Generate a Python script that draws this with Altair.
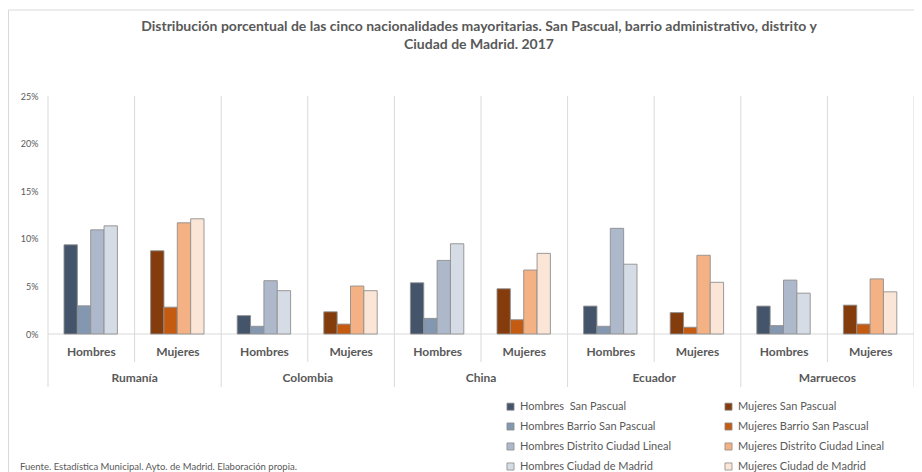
import altair as alt
import pandas as pd

# ---------------- data ----------------
countries = ["Rumanía", "Colombia", "China", "Ecuador", "Marruecos"]
sexes = ["Hombres", "Mujeres"]
levels = ["San Pascual", "Barrio San Pascual", "Distrito Ciudad Lineal", "Ciudad de Madrid"]

# percentages, one value per country (same order as `countries`)
hombres_san_pascual = [9.37, 1.93, 5.38, 2.93, 2.93]
hombres_barrio = [2.96, 0.81, 1.64, 0.81, 0.88]
hombres_distrito = [10.94, 5.60, 7.73, 11.10, 5.66]
hombres_madrid = [11.36, 4.55, 9.48, 7.33, 4.29]

mujeres_san_pascual = [8.74, 2.33, 4.75, 2.25, 3.03]
mujeres_barrio = [2.82, 1.04, 1.50, 0.71, 1.04]
mujeres_distrito = [11.68, 5.04, 6.72, 8.27, 5.79]
mujeres_madrid = [12.10, 4.55, 8.47, 5.43, 4.43]

series_labels = {
    ("Hombres", "San Pascual"): "Hombres\u00a0 San Pascual",
    ("Hombres", "Barrio San Pascual"): "Hombres Barrio San Pascual",
    ("Hombres", "Distrito Ciudad Lineal"): "Hombres Distrito Ciudad Lineal",
    ("Hombres", "Ciudad de Madrid"): "Hombres Ciudad de Madrid",
    ("Mujeres", "San Pascual"): "Mujeres San Pascual",
    ("Mujeres", "Barrio San Pascual"): "Mujeres Barrio San Pascual",
    ("Mujeres", "Distrito Ciudad Lineal"): "Mujeres Distrito Ciudad Lineal",
    ("Mujeres", "Ciudad de Madrid"): "Mujeres Ciudad de Madrid",
}
legend_order = [
    "Hombres\u00a0 San Pascual", "Hombres Barrio San Pascual",
    "Hombres Distrito Ciudad Lineal", "Hombres Ciudad de Madrid",
    "Mujeres San Pascual", "Mujeres Barrio San Pascual",
    "Mujeres Distrito Ciudad Lineal", "Mujeres Ciudad de Madrid",
]
legend_colors = [
    "#44546A", "#8497B0", "#ADB9CA", "#D6DCE5",
    "#843C0C", "#C55A11", "#F4B183", "#FBE5D6",
]

title_lines = [
    "Distribución porcentual de las cinco nacionalidades mayoritarias. San Pascual, barrio administrativo, distrito y",
    "Ciudad de Madrid. 2017",
]
source_text = "Fuente. Estadística Municipal. Ayto. de Madrid. Elaboración propia."

values_by = {
    ("Hombres", "San Pascual"): hombres_san_pascual,
    ("Hombres", "Barrio San Pascual"): hombres_barrio,
    ("Hombres", "Distrito Ciudad Lineal"): hombres_distrito,
    ("Hombres", "Ciudad de Madrid"): hombres_madrid,
    ("Mujeres", "San Pascual"): mujeres_san_pascual,
    ("Mujeres", "Barrio San Pascual"): mujeres_barrio,
    ("Mujeres", "Distrito Ciudad Lineal"): mujeres_distrito,
    ("Mujeres", "Ciudad de Madrid"): mujeres_madrid,
}

keys = [f"{c}|{s}" for c in countries for s in sexes]

rows = []
for i, c in enumerate(countries):
    for s in sexes:
        for lv in levels:
            rows.append({
                "key": f"{c}|{s}", "country": c, "sex": s, "level": lv,
                "series": series_labels[(s, lv)],
                "value": values_by[(s, lv)][i] / 100.0,
            })
df = pd.DataFrame(rows)
cats = pd.DataFrame([{"key": f"{c}|{s}", "country": c, "sex": s} for c in countries for s in sexes])
one = pd.DataFrame({"a": [0]})

# ---------------- layout ----------------
W, H = 866, 238
TXT = "#595959"
GRID = "#d9d9d9"
FONT = "Lato"

xscale = alt.Scale(domain=keys, paddingInner=0, paddingOuter=0)

sub_rules = alt.Chart(cats[cats["sex"] == "Mujeres"]).mark_rule(color=GRID, strokeWidth=1).encode(
    x=alt.X("key:N", scale=xscale, bandPosition=0, axis=None),
    y=alt.value(0), y2=alt.value(266),
)
country_rules = alt.Chart(cats[cats["sex"] == "Hombres"]).mark_rule(color=GRID, strokeWidth=1).encode(
    x=alt.X("key:N", scale=xscale, bandPosition=0, axis=None),
    y=alt.value(0), y2=alt.value(291),
)
end_rule = alt.Chart(one).mark_rule(color=GRID, strokeWidth=1).encode(
    x=alt.value(W), y=alt.value(0), y2=alt.value(291),
)
base_rule = alt.Chart(one).mark_rule(color=GRID, strokeWidth=1).encode(
    x=alt.value(0), x2=alt.value(W), y=alt.value(H),
)

bars = alt.Chart(df).mark_bar(stroke="#8f8f8f", strokeWidth=0.9).encode(
    x=alt.X("key:N", scale=xscale, axis=None),
    xOffset=alt.XOffset("level:N", sort=levels,
                        scale=alt.Scale(domain=levels, paddingInner=0, paddingOuter=0,
                                        range=[16.0, 69.4])),
    y=alt.Y("value:Q", scale=alt.Scale(domain=[0, 0.25]),
            axis=alt.Axis(values=[0, 0.05, 0.10, 0.15, 0.20, 0.25], format=".0%",
                          grid=False, domain=False, ticks=False, title=None,
                          labelColor=TXT, labelFont=FONT, labelFontSize=9, labelPadding=10)),
    color=alt.Color("series:N", scale=alt.Scale(domain=legend_order, range=legend_colors),
                    sort=legend_order,
                    legend=alt.Legend(title=None, orient="none", legendX=457, legendY=305,
                                      columns=2, columnPadding=51, rowPadding=8.0,
                                      symbolType="square", symbolSize=50,
                                      symbolStrokeColor="#8c8c8c", symbolStrokeWidth=0.8,
                                      labelFont=FONT, labelFontSize=11, labelColor=TXT,
                                      labelLimit=300)),
)

sub_labels = alt.Chart(cats).mark_text(font=FONT, fontSize=12, fontWeight="bold", color=TXT,
                                       baseline="middle").encode(
    x=alt.X("key:N", scale=xscale, axis=None),
    y=alt.value(256),
    text="sex:N",
)
country_labels = alt.Chart(cats[cats["sex"] == "Mujeres"]).mark_text(
    font=FONT, fontSize=12, fontWeight="bold", color=TXT, baseline="middle").encode(
    x=alt.X("key:N", scale=xscale, bandPosition=0, axis=None),
    y=alt.value(282),
    text="country:N",
)

title = alt.Chart(one).mark_text(font=FONT, fontSize=14, fontWeight="bold", color=TXT,
                                 baseline="middle", align="center", lineHeight=18).encode(
    x=alt.value(431), y=alt.value(-69), text=alt.value(title_lines),
)
source = alt.Chart(one).mark_text(font=FONT, fontSize=9.5, color=TXT,
                                  baseline="middle", align="left").encode(
    x=alt.value(-28), y=alt.value(371), text=alt.value(source_text),
)
border_left = alt.Chart(one).mark_rule(color=GRID, strokeWidth=1).encode(
    x=alt.value(-39.5), y=alt.value(-86), y2=alt.value(400),
)
border_top = alt.Chart(one).mark_rule(color=GRID, strokeWidth=1).encode(
    x=alt.value(-39.5), x2=alt.value(W), y=alt.value(-86),
)

chart = alt.layer(
    border_left, border_top, sub_rules, country_rules, end_rule, base_rule,
    bars, sub_labels, country_labels, title, source,
).properties(
    width=W, height=H,
    autosize="none",
    padding={"left": 40, "top": 88, "right": 0, "bottom": 138},
).configure_view(stroke=None)

chart.save("out.html", embed_options={"renderer": "svg", "actions": False})
